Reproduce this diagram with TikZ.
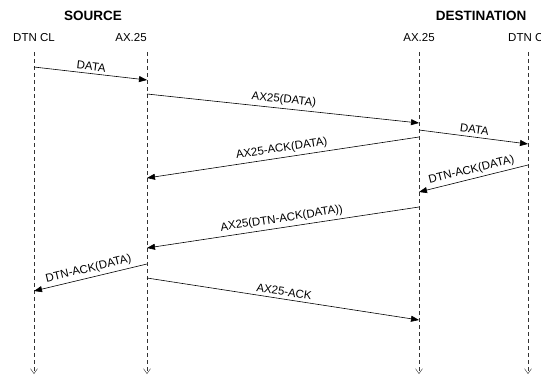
\documentclass[tikz,border=0pt]{standalone}
\usepackage{fontspec}
\setmainfont{Liberation Sans}
\usetikzlibrary{arrows.meta, positioning}

\begin{document}
\begin{tikzpicture}[
    x=1pt, y=-1pt,
    font=\fontsize{11.5}{13}\selectfont,
    title/.style={font=\fontsize{13.5}{15}\selectfont\bfseries},
    entity/.style={inner sep=0pt, anchor=center},
    lifeline/.style={draw=black!80, dash pattern=on 4pt off 3pt, -{Straight Barb[length=5pt, width=7pt]}},
    msg/.style={->, >={Triangle[length=8pt, width=6pt]}, black, line width=0.6pt},
    msglabel/.style={midway, above, sloped, inner sep=3pt, font=\fontsize{11.5}{13}\selectfont}
]
\useasboundingbox (0,0) rectangle (541,375);
\clip (0,0) rectangle (541,375);

% Titles
\node[title] (source) at (93,16) {SOURCE};
\node[title] (destination) at (481,16) {DESTINATION};

% Entities
\node[entity] (srccl) at (34,38) {DTN CL};
\node[entity] (srcax) at (131,38) {AX.25};
\node[entity] (dstax) at (419,38) {AX.25};
\node[entity] (dstcl) at (529,38) {DTN CL};

% Lifelines
\coordinate (srccl top) at (34,52);   \coordinate (srccl end) at (34,374);
\coordinate (srcax top) at (147,52);  \coordinate (srcax end) at (147,374);
\coordinate (dstax top) at (419,52);  \coordinate (dstax end) at (419,374);
\coordinate (dstcl top) at (528,52);  \coordinate (dstcl end) at (528,374);
\draw[lifeline] (srccl top) -- (srccl end);
\draw[lifeline] (srcax top) -- (srcax end);
\draw[lifeline] (dstax top) -- (dstax end);
\draw[lifeline] (dstcl top) -- (dstcl end);

% Message ends
\coordinate (m1a) at (34,67);   \coordinate (m1b) at (147,80);
\coordinate (m2a) at (147,94);  \coordinate (m2b) at (419,123);
\coordinate (m3a) at (419,130); \coordinate (m3b) at (528,144);
\coordinate (m4a) at (419,137); \coordinate (m4b) at (147,178);
\coordinate (m5a) at (528,165); \coordinate (m5b) at (419,192);
\coordinate (m6a) at (419,207); \coordinate (m6b) at (147,248);
\coordinate (m7a) at (147,264); \coordinate (m7b) at (34,291);
\coordinate (m8a) at (147,278); \coordinate (m8b) at (419,320);

% Messages
\draw[msg] (m1a) -- node[msglabel] {DATA} (m1b);
\draw[msg] (m2a) -- node[msglabel] {AX25(DATA)} (m2b);
\draw[msg] (m3a) -- node[msglabel] {DATA} (m3b);
\draw[msg] (m4a) -- node[msglabel] {AX25-ACK(DATA)} (m4b);
\draw[msg] (m5a) -- node[msglabel] {DTN-ACK(DATA)} (m5b);
\draw[msg] (m6a) -- node[msglabel] {AX25(DTN-ACK(DATA))} (m6b);
\draw[msg] (m7a) -- node[msglabel] {DTN-ACK(DATA)} (m7b);
\draw[msg] (m8a) -- node[msglabel] {AX25-ACK} (m8b);

\end{tikzpicture}
\end{document}
